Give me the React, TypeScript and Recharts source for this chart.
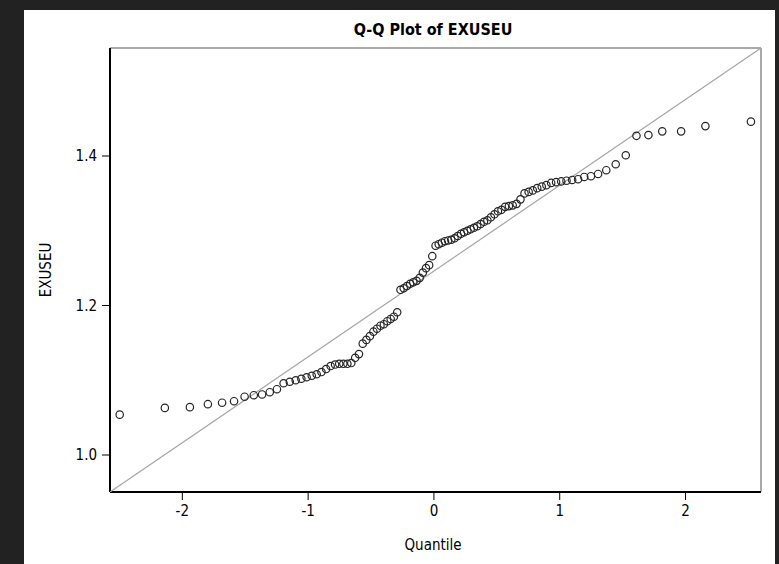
import { ScatterChart, Scatter, XAxis, YAxis, ReferenceArea } from 'recharts'

// expected normal quantiles (horizontal positions)
const quantiles = [
  -2.498, -2.139, -1.94, -1.797, -1.684, -1.589, -1.505, -1.432, -1.366, -1.305,
  -1.248, -1.195, -1.146, -1.099, -1.054, -1.012, -0.971, -0.932, -0.894, -0.857,
  -0.821, -0.786, -0.753, -0.72, -0.688, -0.657, -0.626, -0.596, -0.566, -0.537,
  -0.509, -0.481, -0.453, -0.425, -0.398, -0.371, -0.344, -0.318, -0.292, -0.266,
  -0.24, -0.215, -0.189, -0.164, -0.138, -0.113, -0.088, -0.063, -0.038, -0.013,
  0.013, 0.038, 0.063, 0.088, 0.113, 0.138, 0.164, 0.189, 0.215, 0.24,
  0.266, 0.292, 0.318, 0.344, 0.371, 0.398, 0.425, 0.453, 0.481, 0.509,
  0.537, 0.566, 0.596, 0.626, 0.657, 0.688, 0.72, 0.753, 0.786, 0.821,
  0.857, 0.894, 0.932, 0.971, 1.012, 1.054, 1.099, 1.146, 1.195, 1.248,
  1.305, 1.37, 1.445, 1.525, 1.61, 1.705, 1.815, 1.965, 2.158, 2.52,
]

// sorted EXUSEU values
const exuseu = [
  1.054, 1.063, 1.064, 1.068, 1.07, 1.072, 1.078, 1.08, 1.081, 1.084,
  1.088, 1.096, 1.098, 1.1, 1.102, 1.104, 1.106, 1.108, 1.111, 1.115,
  1.119, 1.121, 1.122, 1.122, 1.122, 1.123, 1.13, 1.135, 1.149, 1.154,
  1.159, 1.165, 1.169, 1.173, 1.175, 1.179, 1.182, 1.185, 1.191, 1.221,
  1.223, 1.226, 1.229, 1.231, 1.233, 1.237, 1.244, 1.25, 1.254, 1.266,
  1.28, 1.282, 1.284, 1.286, 1.287, 1.288, 1.29, 1.293, 1.296, 1.298,
  1.3, 1.302, 1.304, 1.306, 1.309, 1.312, 1.314, 1.318, 1.322, 1.326,
  1.328, 1.332, 1.333, 1.334, 1.336, 1.342, 1.35, 1.352, 1.354, 1.357,
  1.359, 1.361, 1.364, 1.365, 1.366, 1.367, 1.368, 1.369, 1.372, 1.373,
  1.376, 1.381, 1.389, 1.401, 1.427, 1.428, 1.433, 1.433, 1.44, 1.446,
]

const xTicks = [-2, -1, 0, 1, 2]
const yTicks = [1.0, 1.2, 1.4]
const X_DOMAIN = [-2.575, 2.6]
const Y_DOMAIN = [0.9505, 1.5445]

// normal reference line, corner to corner
const refQ = [-2.575, 2.6]
const refV = [0.9505, 1.5445]

const points = quantiles.map((q, i) => ({ q, v: exuseu[i] }))
const refLine = refQ.map((q, i) => ({ q, v: refV[i] }))

const FONT = "'Liberation Sans Narrow', 'DejaVu Sans Condensed', 'Liberation Sans', Arial, sans-serif"

function Ring(props: { cx?: number; cy?: number }) {
  const { cx, cy } = props
  if (cx == null || cy == null) return null
  return <circle cx={cx} cy={cy} r={3.7} fill="none" stroke="#262626" strokeWidth={1.2} />
}

export default function App() {
  return (
    <div style={{ position: 'fixed', left: 0, top: 0, width: 779, height: 564, background: '#222222' }}>
      <div style={{ position: 'absolute', left: 24, top: 10, width: 751, height: 554, background: '#ffffff' }} />
      <div style={{ position: 'absolute', left: 0, top: 0 }}>
        <ScatterChart width={779} height={564} margin={{ top: 48, right: 18, bottom: 0, left: 0 }}>
          <XAxis
            type="number"
            dataKey="q"
            domain={X_DOMAIN}
            ticks={xTicks}
            allowDataOverflow
            height={72}
            tickSize={8}
            tickMargin={5}
            axisLine={{ stroke: '#000', strokeWidth: 2 }}
            tickLine={{ stroke: '#000' }}
            tick={{ fill: '#000', fontSize: 15, fontFamily: FONT }}
          />
          <YAxis
            type="number"
            dataKey="v"
            domain={Y_DOMAIN}
            ticks={yTicks}
            allowDataOverflow
            width={110}
            tickSize={8}
            tickMargin={5}
            tickFormatter={(v: number) => v.toFixed(1)}
            axisLine={{ stroke: '#000', strokeWidth: 2 }}
            tickLine={{ stroke: '#000' }}
            tick={{ fill: '#000', fontSize: 15, fontFamily: FONT }}
          />
          <ReferenceArea
            x1={X_DOMAIN[0]}
            x2={X_DOMAIN[1]}
            y1={Y_DOMAIN[0]}
            y2={Y_DOMAIN[1]}
            fill="none"
            stroke="#555"
            strokeWidth={1}
            ifOverflow="visible"
          />
          <Scatter
            data={refLine}
            line={{ stroke: '#a6a6a6', strokeWidth: 1.2 }}
            shape={() => null}
            isAnimationActive={false}
          />
          <Scatter data={points} shape={<Ring />} isAnimationActive={false} />
        </ScatterChart>
      </div>
      <svg width={779} height={564} style={{ position: 'absolute', left: 0, top: 0, pointerEvents: 'none' }}>
        <text x={433} y={35} textAnchor="middle" fontFamily={FONT} fontSize={16} fontWeight="bold" fill="#000">
          Q-Q Plot of EXUSEU
        </text>
        <text x={433} y={550} textAnchor="middle" fontFamily={FONT} fontSize={15} fill="#000">
          Quantile
        </text>
        <text
          x={51}
          y={270}
          textAnchor="middle"
          fontFamily={FONT}
          fontSize={15}
          fill="#000"
          transform="rotate(-90, 51, 270)"
        >
          EXUSEU
        </text>
      </svg>
    </div>
  )
}
